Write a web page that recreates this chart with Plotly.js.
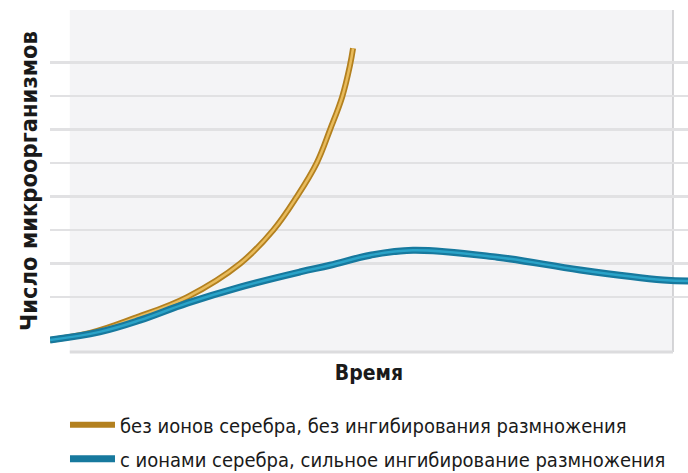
<!DOCTYPE html>
<html>
<head>
<meta charset="utf-8">
<script src="https://cdn.plot.ly/plotly-3.0.1.min.js"></script>
<style>html,body{margin:0;padding:0;background:#fff;}#chart{width:688px;height:473px;}</style>
</head>
<body>
<div id="chart"></div>
<script>
// Time (arbitrary units, 0..100) and number of microorganisms (arbitrary units)
const timeNoSilver = [0, 6.3, 13.2, 21.5, 29.8, 35.0, 38.7, 41.8, 43.9, 45.8, 47.0, 47.5];
const countNoSilver = [-0.28, -0.07, 0.37, 1.0, 2.0, 3.0, 4.0, 5.0, 6.0, 6.98, 7.9, 8.43];

const timeSilver = [0, 7.8, 14.1, 21.5, 29.8, 39.2, 43.9, 50.2, 56.9, 70.1, 83.1, 96.1, 100];
const countSilver = [-0.28, -0.04, 0.31, 0.82, 1.30, 1.75, 1.95, 2.25, 2.40, 2.19, 1.81, 1.51, 1.48];

const gridValues = [1, 2, 3, 4, 5, 6, 7, 8];

const seriesNames = [
  'без ионов серебра, без ингибирования размножения',
  'с ионами серебра, сильное ингибирование размножения'
];
const xTitle = 'Время';
const yTitle = 'Число микроорганизмов';

const narrow = '"DejaVu Sans Condensed", "Liberation Sans Narrow", sans-serif';

const traces = [
  {x: timeNoSilver, y: countNoSilver, mode: 'lines', name: seriesNames[0],
   line: {color: '#b3801f', width: 6, shape: 'spline', smoothing: 1.1}, legendgroup: 'a'},
  {x: timeNoSilver, y: countNoSilver, mode: 'lines', showlegend: false, hoverinfo: 'skip',
   line: {color: '#e8bb5c', width: 2.5, shape: 'spline', smoothing: 1.1}, legendgroup: 'a'},
  {x: timeSilver, y: countSilver, mode: 'lines', name: seriesNames[1],
   line: {color: '#17799e', width: 7, shape: 'spline', smoothing: 1.1}, legendgroup: 'b'},
  {x: timeSilver, y: countSilver, mode: 'lines', showlegend: false, hoverinfo: 'skip',
   line: {color: '#2aa3c8', width: 2.5, shape: 'spline', smoothing: 1.1}, legendgroup: 'b'}
];

const layout = {
  width: 688, height: 473,
  margin: {l: 50, r: 0, t: 10, b: 121, autoexpand: false},
  paper_bgcolor: '#ffffff',
  plot_bgcolor: '#ffffff',
  showlegend: true,
  xaxis: {
    range: [0, 100], showgrid: false, zeroline: false, showticklabels: false, ticks: '',
    showline: false, fixedrange: true,
    title: {text: '<b>' + xTitle + '</b>', font: {family: narrow, size: 21, color: '#1a1a1a'}, standoff: 13}
  },
  yaxis: {
    range: [-0.64, 9.57], tickmode: 'array', tickvals: gridValues, showticklabels: false, ticks: '',
    showgrid: true, gridcolor: '#e1e1e3', gridwidth: 2.5, zeroline: false, showline: false, fixedrange: true,
    title: {text: '<b>' + yTitle + '</b>', font: {family: narrow, size: 23.5, color: '#1a1a1a'}, standoff: 4}
  },
  shapes: [
    {type: 'rect', xref: 'paper', yref: 'paper', x0: 0.031, x1: 0.9765, y0: 0, y1: 1,
     fillcolor: '#f4f4f6', line: {width: 0}, layer: 'below'},
    {type: 'line', xref: 'paper', yref: 'paper', x0: 0.9765, x1: 0.9765, y0: 0, y1: 1,
     line: {color: '#c9c9cb', width: 1.5}, layer: 'below'},
    {type: 'line', xref: 'paper', yref: 'paper', x0: 0.031, x1: 0.9765, y0: 0, y1: 0,
     line: {color: '#dcdcde', width: 3}, layer: 'below'}
  ],
  legend: {
    x: 0.0235, xanchor: 'left', y: -0.156, yanchor: 'top',
    bgcolor: 'rgba(0,0,0,0)', borderwidth: 0,
    font: {family: narrow, size: 20, color: '#1a1a1a'},
    itemwidth: 45, tracegroupgap: 5
  }
};

Plotly.newPlot('chart', traces, layout, {displayModeBar: false, staticPlot: true});
</script>
</body>
</html>
